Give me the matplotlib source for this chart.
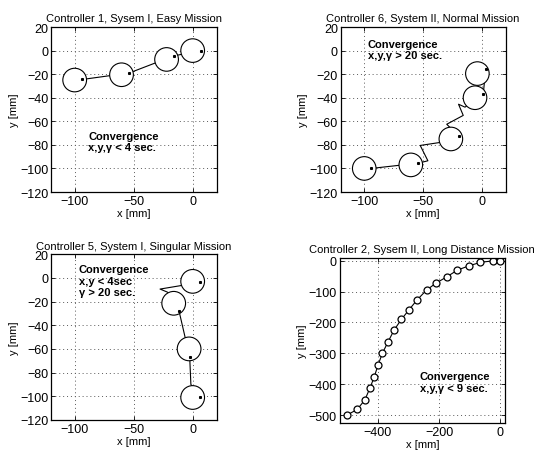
import numpy as np
import matplotlib
matplotlib.use("Agg")
import matplotlib.pyplot as plt
from matplotlib.patches import Circle

plt.rcParams['font.family'] = ['Liberation Sans', 'DejaVu Sans']
plt.rcParams['font.size'] = 8

# panel 1: Controller 1, easy mission
c1_cx = [-100, -60.5, -22.5, -0.5]
c1_cy = [-25, -20.5, -7.5, 0]
c1_dx = [-93.5, -54, -16.5, 6.5]
c1_dy = [-24.5, -19, -4.5, 0]
c1_tx = [-93.5, -54, -16.5, 6.5]
c1_ty = [-24.5, -19, -4.5, 0]

# panel 2: Controller 6, normal mission
c6_cx = [-100, -60.5, -26.5, -6, -4]
c6_cy = [-100, -97, -75, -40, -19.5]
c6_dx = [-94, -54, -20, 1, 3]
c6_dy = [-100, -95.5, -72.5, -37, -16]
c6_tx = [-94, -54, -46, -52.5, -36, -20, -30, -16, -20, -14.5, 1, 3]
c6_ty = [-100, -95.5, -93.5, -80.5, -78, -72.5, -62.5, -55, -45.5, -48, -37, -16]

# panel 3: Controller 5, singular mission
c5_cx = [-0.5, -16.5, -3.5, -0.5]
c5_cy = [-3, -21.5, -60, -101]
c5_dx = [5.5, -12, -3, 6]
c5_dy = [-3.5, -28, -67, -101]
c5_tx = [6, -2, -3, -12, -18, -22, -28, -10, 5.5]
c5_ty = [-101, -90, -67, -28, -14.5, -12, -9.5, -6.5, -3.5]

# panel 4: Controller 2, long distance mission
c2_x = [-500, -467, -442, -426, -412, -399, -385, -366, -347, -323,
        -299, -272, -241, -211, -175, -140, -102, -65, -24, -2]
c2_y = [-500, -482, -451, -414, -378, -338, -300, -262, -225, -190,
        -160, -127, -95, -73, -52, -30, -16, -5, 0, 0]

ROBOT_R = 10


def style_axes(ax, title):
    ax.set_title(title, fontsize=8, pad=4)
    ax.set_xlabel("x [mm]", labelpad=1)
    ax.set_ylabel("y [mm]", labelpad=1)
    ax.tick_params(direction="in", length=3, width=0.6, top=True, right=True,
                   pad=2, labelsize=9)
    ax.grid(True, linestyle=(0, (1, 3)), color="0.35", linewidth=0.7)
    for s in ax.spines.values():
        s.set_linewidth(0.9)


def draw_robots(ax, cx, cy, dx, dy, tx, ty):
    ax.plot(tx, ty, color="black", linewidth=0.8, zorder=2)
    for x, y in zip(cx, cy):
        ax.add_patch(Circle((x, y), ROBOT_R, facecolor="white",
                            edgecolor="black", linewidth=0.8, zorder=3))
    ax.plot(dx, dy, "s", color="black", markersize=1.2, zorder=4)


def small_axes(ax):
    ax.set_xlim(-120, 20)
    ax.set_ylim(-120, 20)
    ax.set_xticks([-100, -50, 0])
    ax.set_yticks([-120, -100, -80, -60, -40, -20, 0, 20])


fig = plt.figure(figsize=(5.36, 4.52), dpi=100)

ax1 = fig.add_axes([0.0951, 0.573, 0.3097, 0.365])
draw_robots(ax1, c1_cx, c1_cy, c1_dx, c1_dy, c1_tx, c1_ty)
small_axes(ax1)
style_axes(ax1, "Controller 1, Sysem I, Easy Mission")
ax1.text(-88.5, -68, "Convergence\nx,y,γ < 4 sec.", fontweight="bold",
         va="top", ha="left", linespacing=1.2)

ax2 = fig.add_axes([0.6356, 0.573, 0.3078, 0.365])
draw_robots(ax2, c6_cx, c6_cy, c6_dx, c6_dy, c6_tx, c6_ty)
small_axes(ax2)
style_axes(ax2, "Controller 6, System II, Normal Mission")
ax2.text(-97, 10, "Convergence\nx,y,γ > 20 sec.", fontweight="bold",
         va="top", ha="left", linespacing=1.2)

ax3 = fig.add_axes([0.0951, 0.0686, 0.3097, 0.367])
draw_robots(ax3, c5_cx, c5_cy, c5_dx, c5_dy, c5_tx, c5_ty)
small_axes(ax3)
style_axes(ax3, "Controller 5, System I, Singular Mission")
ax3.text(-96.5, 11.5, "Convergence\nx,y < 4sec\nγ > 20 sec.", fontweight="bold",
         va="top", ha="left", linespacing=1.2)

ax4 = fig.add_axes([0.6338, 0.0619, 0.3084, 0.365])
ax4.plot(c2_x, c2_y, "-o", color="black", linewidth=0.8, markersize=5,
         markerfacecolor="white", markeredgewidth=0.9)
ax4.set_xlim(-524, 15)
ax4.set_ylim(-526, 9)
ax4.set_xticks([-400, -200, 0])
ax4.set_yticks([-500, -400, -300, -200, -100, 0])
style_axes(ax4, "Controller 2, Sysem II, Long Distance Mission")
ax4.text(-263, -358, "Convergence\nx,y,γ < 9 sec.", fontweight="bold",
         va="top", ha="left", linespacing=1.2)

fig.savefig("out.png", dpi=100)
